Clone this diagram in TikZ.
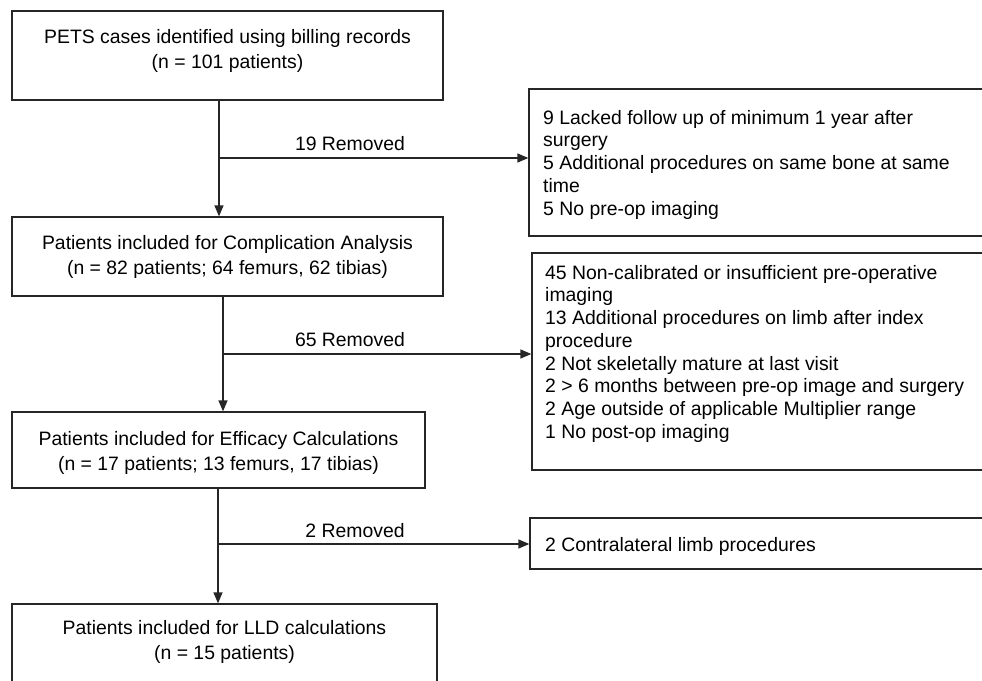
\documentclass[tikz,border=0pt]{standalone}
\usepackage{fontspec}
\setmainfont{Liberation Sans}
\usetikzlibrary{arrows.meta}
\begin{document}
\begin{tikzpicture}[x=1pt,y=-1pt,
  box/.style={draw=black!85, line width=1.3pt, inner sep=0pt},
  ctext/.style={align=center, font=\fontsize{19.4}{25.5}\selectfont, inner sep=0pt, text=black},
  ltext/.style={align=left, font=\fontsize{19.4}{22.7}\selectfont, inner sep=0pt, anchor=north west, text=black},
  arr/.style={draw=black!85, line width=1.3pt, -{Triangle[length=11pt,width=9pt]}},
  ln/.style={draw=black!85, line width=1.3pt}]
\clip (0,0) rectangle (982,680);
% left column boxes
\node[box, minimum width=431pt, minimum height=89pt] (b1) at (227.5,55.5) {};
\node[box, minimum width=431pt, minimum height=79pt] (b2) at (227.5,256.5) {};
\node[box, minimum width=413pt, minimum height=76pt] (b3) at (218.5,450) {};
\node[box, minimum width=425pt, minimum height=100pt] (b4) at (224.5,654) {};
\node[ctext] (t1) at (b1.center |- 0,51) {PETS cases identified using billing records\\(n = 101 patients)};
\node[ctext] (t2) at (b2.center |- 0,257) {Patients included for Complication Analysis\\(n = 82 patients; 64 femurs, 62 tibias)};
\node[ctext] (t3) at (b3.center |- 0,453) {Patients included for Efficacy Calculations\\(n = 17 patients; 13 femurs, 17 tibias)};
\node[ctext] (t4) at (b4.center |- 0,642) {Patients included for LLD calculations\\(n = 15 patients)};
% right column boxes
\node[box, minimum width=471pt, minimum height=147pt] (r1) at (764.5,162.5) {};
\node[box, minimum width=468pt, minimum height=217pt] (r2) at (766,361.5) {};
\node[box, minimum width=470pt, minimum height=51pt] (r3) at (765,543.5) {};
\node[ltext] (s1) at (543,110) {9 Lacked follow up of minimum 1 year after\\surgery\\5 Additional procedures on same bone at same\\time\\5 No pre-op imaging};
\node[ltext] (s2) at (545,265) {45 Non-calibrated or insufficient pre-operative\\imaging\\13 Additional procedures on limb after index\\procedure\\2 Not skeletally mature at last visit\\2 > 6 months between pre-op image and surgery\\2 Age outside of applicable Multiplier range\\1 No post-op imaging};
\node[ltext] (s3) at (545,537) {2 Contralateral limb procedures};
% connectors
\coordinate (c1) at (219,158);
\coordinate (c2) at (223,354);
\coordinate (c3) at (218,544);
\draw[ln] (b1.south -| c1) -- (c1);
\draw[arr] (c1) -- (b2.north -| c1);
\draw[arr] (c1) -- (r1.west |- c1);
\draw[ln] (b2.south -| c2) -- (c2);
\draw[arr] (c2) -- (b3.north -| c2);
\draw[arr] (c2) -- (r2.west |- c2);
\draw[ln] (b3.south -| c3) -- (c3);
\draw[arr] (c3) -- (b4.north -| c3);
\draw[arr] (c3) -- (r3.west |- c3);
\node[ctext] (l1) at (350,144) {19 Removed};
\node[ctext] (l2) at (350,340) {65 Removed};
\node[ctext] (l3) at (355,531) {2 Removed};
\end{tikzpicture}
\end{document}
